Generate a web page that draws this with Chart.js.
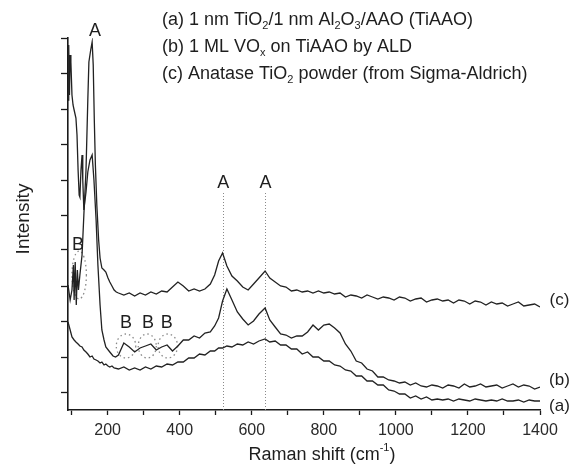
<!DOCTYPE html>
<html>
<head>
<meta charset="utf-8">
<script src="https://cdn.jsdelivr.net/npm/chart.js@4.4.1/dist/chart.umd.min.js"></script>
<style>
  html, body { margin: 0; padding: 0; background: #fff; }
  canvas { display: block; }
</style>
</head>
<body>
<canvas id="raman" width="576" height="469"></canvas>
<script>
// Raman shift grid shared by all three spectra above 230 cm-1
const gridCm = [230, 245, 260, 275, 290, 305, 320, 335, 350, 365,
  380, 395, 410, 425, 440, 455, 470, 485, 497, 508,
  519, 531, 545, 560, 575, 590, 605, 620, 637, 650,
  665, 680, 695, 710, 725, 740, 755, 770, 785, 800,
  815, 830, 845, 860, 875, 890, 905, 920, 935, 950,
  965, 980, 995, 1010, 1025, 1040, 1055, 1070, 1085, 1100,
  1115, 1130, 1145, 1160, 1175, 1190, 1205, 1220, 1235, 1250,
  1265, 1280, 1295, 1310, 1325, 1340, 1355, 1370, 1385, 1400];

// (a) 1 nm TiO2/1 nm Al2O3/AAO
const aLeftCm = [90, 96, 101, 107, 112, 118, 123, 129, 134, 140, 145, 151, 157, 162, 168, 173, 179, 184, 190, 195, 201, 206, 212, 218];
const aLeft = [88, 80, 73, 70, 68, 66, 64, 63, 60, 58, 56, 53, 54, 51, 50, 49, 47, 48, 45, 46, 44, 43, 44, 42];
const aGrid = [41, 43, 40, 42, 40, 43, 41, 44, 43, 46,
  45, 48, 48, 52, 52, 56, 55, 59, 59, 62,
  62, 64, 63, 66, 65, 68, 66, 69, 71, 68,
  69, 65, 65, 61, 61, 56, 58, 53, 53, 49,
  49, 45, 44, 40, 39, 34, 34, 29, 29, 25,
  25, 20, 19, 16, 16, 12, 14, 11, 13, 10,
  11, 10, 11, 9, 11, 10, 9, 11, 10, 9,
  10, 9, 11, 9, 9, 10, 8, 10, 9, 9];

// (b) 1 ML VOx on TiAAO
const bLeftCm = [90, 92, 94, 96, 98, 101, 104, 107, 112, 115, 118, 121, 123, 126, 129, 131, 134, 140, 145, 151, 157, 162, 168, 173, 179, 184, 190, 195, 206, 215, 222];
const bLeft = [310, 365, 315, 355, 348, 315, 305, 300, 292, 275, 240, 215, 213, 240, 255, 230, 200, 218, 238, 250, 255, 230, 190, 145, 105, 80, 70, 63, 58, 54, 53];
const bGrid = [55, 67, 63, 58, 62, 64, 66, 60, 63, 65,
  59, 64, 70, 70, 74, 72, 77, 78, 84, 92,
  109, 121, 110, 98, 91, 85, 89, 96, 102, 90,
  83, 76, 75, 72, 74, 74, 78, 85, 80, 85,
  86, 82, 77, 66, 59, 49, 47, 41, 39, 33,
  33, 30, 29, 27, 28, 25, 27, 24, 23, 25,
  24, 22, 25, 24, 22, 26, 23, 24, 26, 23,
  24, 25, 22, 24, 26, 23, 25, 24, 21, 23];

// (c) anatase TiO2 powder
const cLeftCm = [90, 96, 101, 105, 107, 110, 113, 116, 119, 123, 129, 134, 140, 145, 148, 153, 157, 160, 163, 166, 170, 175, 179, 184, 190, 195, 201, 206, 212, 218, 224];
const cLeft = [125, 110, 120, 145, 110, 148, 105, 140, 120, 135, 155, 195, 240, 310, 348, 360, 368, 345, 290, 245, 205, 170, 152, 142, 140, 138, 132, 128, 124, 120, 118];
const cGrid = [117, 115, 117, 114, 117, 115, 118, 116, 119, 118,
  123, 128, 124, 119, 121, 119, 121, 126, 135, 149,
  157, 144, 134, 129, 123, 120, 126, 132, 139, 132,
  128, 124, 123, 119, 120, 118, 119, 117, 119, 117,
  118, 116, 117, 113, 115, 114, 112, 115, 113, 111,
  113, 112, 110, 113, 112, 109, 111, 112, 108, 110,
  111, 109, 110, 107, 110, 109, 106, 109, 108, 105,
  108, 106, 107, 104, 106, 108, 104, 105, 106, 103];

const xTicks = [100, 200, 300, 400, 500, 600, 700, 800, 900, 1000, 1100, 1200, 1300, 1400];
const yTicks = [18, 53, 89, 124, 160, 195, 230, 266, 301, 337, 372];

// anatase guide lines and band markers (cm-1, intensity)
const anataseLines = [519, 637];
const anataseTop = 217;
const bandRings = [[121, 135, 20, 24], [251, 64, 27, 12], [310, 64, 25, 12], [367, 64, 27, 12]];
const peakTags = [['A', 165, 379], ['A', 521, 227], ['A', 638, 227], ['B', 118, 165], ['B', 251, 87], ['B', 312, 87], ['B', 364, 87]];
const curveTags = [['(c)', 1454, 110], ['(b)', 1454, 30], ['(a)', 1454, 4]];

const toPts = (xs, ys) => xs.map((x, i) => ({ x, y: ys[i] }));
const lineStyle = { borderColor: '#222', borderWidth: 1.3, pointRadius: 0, tension: 0, fill: false };

const FONT = '"Liberation Sans", Arial, sans-serif';

function richWidth(ctx, parts, size) {
    let w = 0;
    parts.forEach(p => {
        ctx.font = (p[1] ? Math.round(size * 0.62) : size) + 'px ' + FONT;
        w += ctx.measureText(p[0]).width;
    });
    return w;
}

function drawRich(ctx, x, y, parts, size) {
    parts.forEach(p => {
        const small = !!p[1];
        ctx.font = (small ? Math.round(size * 0.62) : size) + 'px ' + FONT;
        let dy = 0;
        if (p[1] === 'sub') dy = size * 0.32;
        if (p[1] === 'sup') dy = -size * 0.38;
        ctx.fillText(p[0], x, y + dy);
        x += ctx.measureText(p[0]).width;
    });
}

const decor = {
    id: 'decor',
    beforeDatasetsDraw(chart) {
        const { ctx, scales: { x, y } } = chart;
        ctx.save();
        ctx.strokeStyle = '#8a8a8a';
        ctx.lineWidth = 1;
        ctx.setLineDash([1, 2]);
        anataseLines.forEach(v => {
            const px = Math.round(x.getPixelForValue(v)) + 0.5;
            ctx.beginPath();
            ctx.moveTo(px, y.getPixelForValue(anataseTop));
            ctx.lineTo(px, y.getPixelForValue(0));
            ctx.stroke();
        });
        ctx.lineWidth = 1.3;
        ctx.setLineDash([1.5, 3]);
        bandRings.forEach(r => {
            const cx = x.getPixelForValue(r[0]);
            const cy = y.getPixelForValue(r[1]);
            const rx = Math.abs(x.getPixelForValue(r[0] + r[2]) - cx);
            const ry = Math.abs(y.getPixelForValue(r[1] + r[3]) - cy);
            ctx.beginPath();
            ctx.ellipse(cx, cy, rx, ry, 0, 0, Math.PI * 2);
            ctx.stroke();
        });
        ctx.restore();
    },
    afterDraw(chart) {
        const { ctx, scales: { x, y } } = chart;
        ctx.save();
        ctx.fillStyle = '#1e1e1e';
        ctx.textBaseline = 'middle';

        ctx.textAlign = 'center';
        ctx.font = '18px ' + FONT;
        peakTags.forEach(t => ctx.fillText(t[0], x.getPixelForValue(t[1]), y.getPixelForValue(t[2])));
        ctx.font = '17px ' + FONT;
        curveTags.forEach(t => ctx.fillText(t[0], x.getPixelForValue(t[1]), y.getPixelForValue(t[2])));

        // sample key, top right
        ctx.textAlign = 'left';
        const key = [
            [['(a) 1 nm TiO'], ['2', 'sub'], ['/1 nm Al'], ['2', 'sub'], ['O'], ['3', 'sub'], ['/AAO (TiAAO)']],
            [['(b) 1 ML VO'], ['x', 'sub'], [' on TiAAO by ALD']],
            [['(c) Anatase TiO'], ['2', 'sub'], [' powder (from Sigma-Aldrich)']]
        ];
        key.forEach((parts, i) => drawRich(ctx, 162, 20 + i * 27, parts, 18));

        // axis titles
        const xt = [['Raman shift (cm'], ['-1', 'sup'], [')']];
        const w = richWidth(ctx, xt, 18);
        drawRich(ctx, 322 - w / 2, 455, xt, 18);

        ctx.translate(24, 219);
        ctx.rotate(-Math.PI / 2);
        ctx.textAlign = 'center';
        ctx.font = '19px ' + FONT;
        ctx.fillText('Intensity', 0, 0);
        ctx.restore();
    }
};

const axisBorder = { display: true, color: '#1a1a1a', width: 1.6 };

new Chart(document.getElementById('raman'), {
    type: 'line',
    data: {
        datasets: [
            { label: '(a)', data: toPts(aLeftCm.concat(gridCm), aLeft.concat(aGrid)), ...lineStyle },
            { label: '(b)', data: toPts(bLeftCm.concat(gridCm), bLeft.concat(bGrid)), ...lineStyle },
            { label: '(c)', data: toPts(cLeftCm.concat(gridCm), cLeft.concat(cGrid)), ...lineStyle }
        ]
    },
    options: {
        responsive: false, animation: false, devicePixelRatio: 1,
        layout: { padding: { left: 0, right: 36, top: 38, bottom: 0 } },
        plugins: { legend: { display: false }, tooltip: { enabled: false } },
        scales: {
            x: {
                type: 'linear', min: 90, max: 1400,
                grid: { display: true, drawOnChartArea: false, tickLength: 5, tickWidth: 1.3, color: '#1a1a1a' },
                border: axisBorder,
                afterBuildTicks: s => { s.ticks = xTicks.map(v => ({ value: v })); },
                afterFit: s => { s.height = 59; },
                ticks: {
                    autoSkip: false, maxRotation: 0, padding: 6,
                    color: '#2a2a2a', font: { size: 16, family: FONT },
                    callback: v => (v % 200 === 0 ? String(v) : '')
                }
            },
            y: {
                type: 'linear', min: 0, max: 372,
                grid: { display: true, drawOnChartArea: false, tickLength: 7, tickWidth: 1.3, color: '#1a1a1a' },
                border: axisBorder,
                afterBuildTicks: s => { s.ticks = yTicks.map(v => ({ value: v })); },
                afterFit: s => { s.width = 68; },
                ticks: { callback: () => '' }
            }
        }
    },
    plugins: [decor]
});
</script>
</body>
</html>
